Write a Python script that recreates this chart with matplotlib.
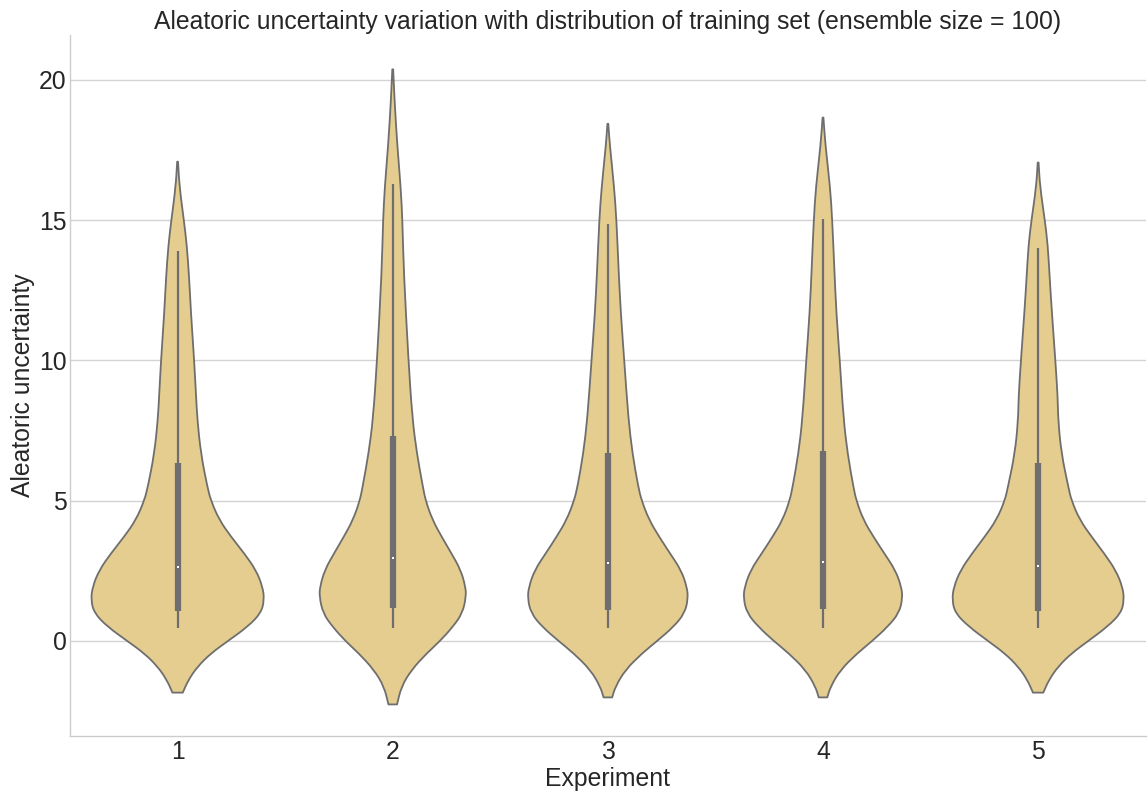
import numpy as np
import matplotlib
matplotlib.use("Agg")
from matplotlib import pyplot as plt
from matplotlib.path import Path
from matplotlib.patches import PathPatch

# experiment labels along the x axis
experiments = ["1", "2", "3", "4", "5"]

# violin outlines: y levels and half-widths (in category units)
y_exp1 = [17.08, 16.18, 15.0, 14.1, 12.9, 11.7, 10.0, 8.7, 7.88, 6.69, 5.5, 5.0, 4.31, 3.72,
          3.12, 2.53, 1.94, 1.46, 0.99, 0.51, 0.0, -0.44, -0.91, -1.39, -1.84]
w_exp1 = [0.002, 0.009, 0.029, 0.043, 0.054, 0.062, 0.077, 0.086, 0.092, 0.108, 0.138, 0.155, 0.194, 0.248,
          0.310, 0.364, 0.395, 0.403, 0.387, 0.326, 0.234, 0.155, 0.093, 0.050, 0.024]

y_exp2 = [20.37, 19.18, 17.68, 16.18, 15.0, 13.19, 10.0, 7.95, 6.69, 5.5, 5.0, 4.31, 3.72,
          3.12, 2.53, 1.94, 1.58, 0.99, 0.51, 0.0, -0.44, -1.03, -1.63, -2.26]
w_exp2 = [0.002, 0.009, 0.021, 0.037, 0.045, 0.051, 0.073, 0.091, 0.112, 0.140, 0.153, 0.185, 0.227,
          0.273, 0.316, 0.338, 0.341, 0.324, 0.280, 0.220, 0.158, 0.087, 0.040, 0.020]

y_exp3 = [18.43, 17.68, 16.18, 15.0, 13.19, 11.7, 10.0, 7.95, 6.69, 5.5, 5.0, 4.31, 3.72,
          3.12, 2.53, 1.94, 1.52, 0.99, 0.51, 0.0, -0.44, -1.03, -1.63, -2.01]
w_exp3 = [0.002, 0.009, 0.029, 0.040, 0.050, 0.060, 0.076, 0.095, 0.114, 0.141, 0.157, 0.192, 0.238,
          0.289, 0.340, 0.367, 0.373, 0.357, 0.306, 0.229, 0.159, 0.081, 0.035, 0.020]

y_exp4 = [18.65, 17.68, 16.18, 15.0, 13.19, 11.7, 10.0, 7.95, 6.69, 5.5, 5.0, 4.31, 3.72,
          3.12, 2.53, 1.94, 1.52, 0.99, 0.51, 0.0, -0.44, -1.03, -1.63, -2.01]
w_exp4 = [0.002, 0.011, 0.033, 0.043, 0.053, 0.062, 0.078, 0.095, 0.114, 0.141, 0.155, 0.188, 0.234,
          0.285, 0.336, 0.364, 0.370, 0.353, 0.301, 0.229, 0.159, 0.081, 0.035, 0.020]

y_exp5 = [17.05, 16.18, 15.0, 14.1, 12.9, 11.7, 10.0, 8.7, 7.88, 6.69, 5.5, 5.0, 4.31, 3.72,
          3.12, 2.53, 1.94, 1.46, 0.99, 0.51, 0.0, -0.44, -0.91, -1.39, -1.84]
w_exp5 = [0.002, 0.009, 0.031, 0.045, 0.054, 0.064, 0.080, 0.091, 0.093, 0.108, 0.140, 0.155, 0.194, 0.248,
          0.307, 0.360, 0.392, 0.400, 0.385, 0.322, 0.233, 0.155, 0.093, 0.050, 0.024]

# box statistics per experiment
whisker_low = [0.45, 0.48, 0.48, 0.48, 0.48]
q1 = [1.08, 1.16, 1.12, 1.14, 1.08]
median = [2.65, 2.97, 2.79, 2.83, 2.68]
q3 = [6.33, 7.31, 6.71, 6.78, 6.33]
whisker_high = [13.9, 16.29, 14.87, 15.03, 14.01]

outlines = [(y_exp1, w_exp1), (y_exp2, w_exp2), (y_exp3, w_exp3),
            (y_exp4, w_exp4), (y_exp5, w_exp5)]


def smooth_side(pts):
    """quadratic bezier through midpoints, corners become control points"""
    verts = [pts[0], (pts[0] + pts[1]) / 2]
    codes = [Path.LINETO, Path.LINETO]
    for k in range(1, len(pts) - 1):
        verts += [pts[k], (pts[k] + pts[k + 1]) / 2]
        codes += [Path.CURVE3, Path.CURVE3]
    verts.append(pts[-1])
    codes.append(Path.LINETO)
    return verts, codes


def violin_path(pos, ys, ws):
    ys = np.asarray(ys, float)
    ws = np.asarray(ws, float)
    left = np.column_stack([pos - ws, ys])
    right = np.column_stack([pos + ws, ys])[::-1]
    lv, lc = smooth_side(left)
    rv, rc = smooth_side(right)
    verts = lv + rv + [lv[0]]
    codes = [Path.MOVETO] + lc[1:] + rc + [Path.CLOSEPOLY]
    return Path(np.array(verts), codes)


plt.rcParams["font.family"] = ["Liberation Sans", "DejaVu Sans"]
fill_col = "#e5cd8f"
line_col = "#6e6e6e"
text_col = "#262626"

fig = plt.figure(figsize=(11.48, 7.95), dpi=100)
ax = fig.add_axes([0.061, 0.0742, 0.937, 0.882])

for i, (ys, ws) in enumerate(outlines):
    ax.add_patch(PathPatch(violin_path(i, ys, ws), facecolor=fill_col, edgecolor=line_col,
                           lw=1.3, joinstyle="round", zorder=3))
    # inner box
    ax.plot([i, i], [whisker_low[i], whisker_high[i]], color=line_col, lw=1.6, zorder=4,
            solid_capstyle="butt")
    ax.plot([i, i], [q1[i], q3[i]], color=line_col, lw=4.5, zorder=4, solid_capstyle="butt")
    ax.scatter([i], [median[i]], s=4, color="white", zorder=5, linewidths=0, marker="s")

ax.set_xlim(-0.5, 4.5)
ax.set_ylim(-3.386, 21.6)
ax.set_xticks(range(len(experiments)))
ax.set_xticklabels(experiments)
ax.set_yticks([0, 5, 10, 15, 20])
ax.yaxis.grid(True, color="#d3d3d3", lw=1.0, zorder=0)
ax.xaxis.grid(False)
ax.set_axisbelow(True)
for side in ["top", "right"]:
    ax.spines[side].set_visible(False)
for side in ["left", "bottom"]:
    ax.spines[side].set_color("#cccccc")
    ax.spines[side].set_linewidth(1.0)
ax.tick_params(axis="x", length=0, labelsize=17.8, colors=text_col, pad=3)
ax.tick_params(axis="y", length=0, labelsize=17.8, colors=text_col, pad=2.5)
ax.set_xlabel("Experiment", fontsize=17.8, color=text_col, labelpad=2)
ax.set_ylabel("Aleatoric uncertainty", fontsize=17.8, color=text_col, labelpad=3)
ax.set_title("Aleatoric uncertainty variation with distribution of training set (ensemble size = 100)",
             fontsize=17.8, color=text_col, pad=4.5)

fig.savefig("out.png", dpi=100)
